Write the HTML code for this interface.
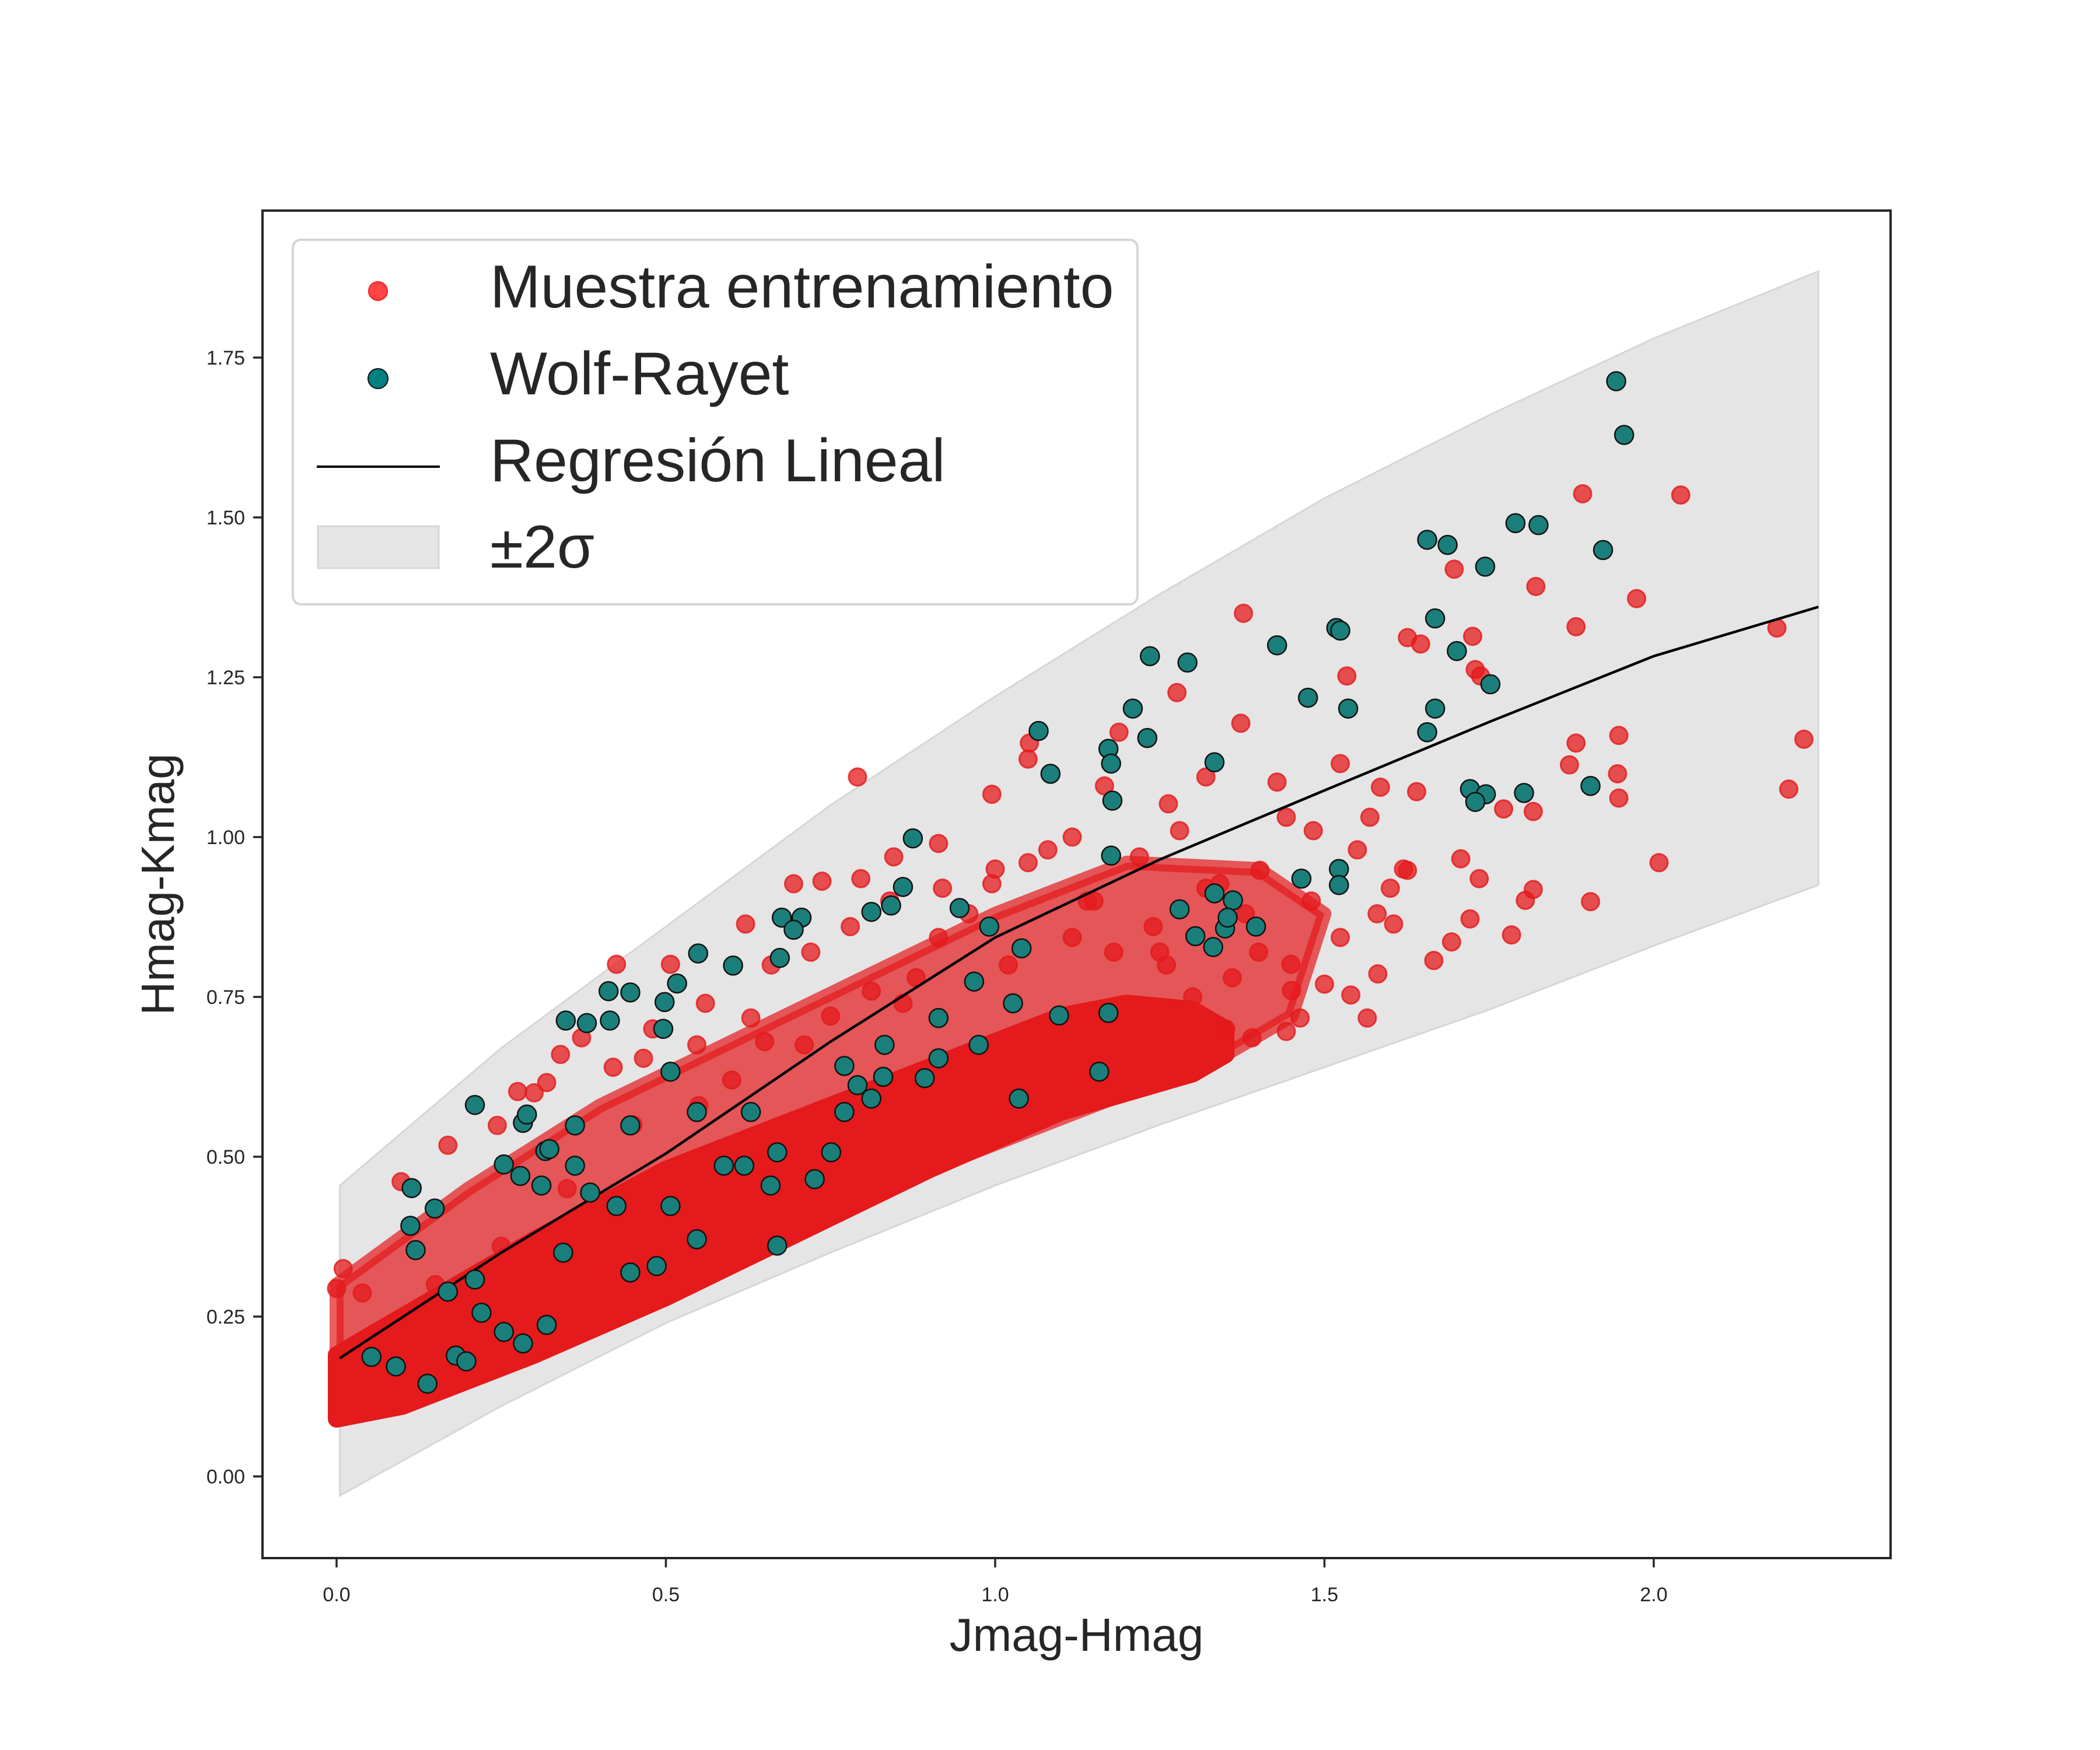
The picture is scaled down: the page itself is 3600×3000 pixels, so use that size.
<!DOCTYPE html>
<html><head><meta charset="utf-8"><style>
html,body{margin:0;padding:0;background:#fff;}
svg{display:block;font-family:"Liberation Sans",Arial,sans-serif;}
</style></head><body>
<svg id="chart" width="3600" height="3000" viewBox="0 0 3600 3000" xmlns="http://www.w3.org/2000/svg">
<rect width="3600" height="3000" fill="#fff"/>
<defs><clipPath id="plotclip"><rect x="450" y="361" width="2791" height="2310"/></clipPath></defs>
<g id="plot" clip-path="url(#plotclip)"></g>
<g id="axes"></g>
<g id="legend">
  <rect x="502" y="411" width="1448" height="625" rx="14" fill="#fff" fill-opacity="0.8" stroke="#d5d5d5" stroke-width="4"/>
  <circle cx="648" cy="499" r="16" fill="#ff4444" stroke="#ee2020" stroke-width="2"/>
  <text x="840" y="527" font-size="104" fill="#262626">Muestra entrenamiento</text>
  <circle cx="648" cy="649" r="17" fill="#008080" stroke="#111" stroke-width="2"/>
  <text x="840" y="676" font-size="104" fill="#262626">Wolf-Rayet</text>
  <line x1="543" y1="800" x2="754" y2="800" stroke="#000" stroke-width="4"/>
  <text x="840" y="825" font-size="104" fill="#262626">Regresión Lineal</text>
  <rect x="545" y="902" width="207" height="72" fill="#e5e5e5" stroke="#d6d6d6" stroke-width="3"/>
  <text x="840" y="973" font-size="104" fill="#262626">±2σ</text>
</g>
</svg>
<script>
// ---- data ----
const regX = [0.005, 0.25, 0.5, 0.75, 1.0, 1.25, 1.5, 1.75, 2.0, 2.25];
const regY = [0.185, 0.35, 0.505, 0.68, 0.843, 0.965, 1.073, 1.18, 1.283, 1.36];
const bandUpper = [0.455, 0.67, 0.86, 1.05, 1.22, 1.38, 1.53, 1.66, 1.78, 1.885];
const bandLower = [-0.03, 0.11, 0.24, 0.35, 0.455, 0.55, 0.64, 0.73, 0.83, 0.925];
const coreLowerX = [0.0, 0.1, 0.3, 0.5, 0.7, 0.9, 1.1, 1.2, 1.3, 1.35];
const coreLowerY = [0.09, 0.11, 0.19, 0.28, 0.38, 0.48, 0.57, 0.6, 0.63, 0.66];
const coreUpperX = [1.35, 1.3, 1.2, 1.1, 0.9, 0.7, 0.5, 0.3, 0.1, 0.0];
const coreUpperY = [0.7, 0.73, 0.74, 0.72, 0.64, 0.56, 0.48, 0.37, 0.25, 0.19];
const cloudX = [0.0, 0.2, 0.4, 0.6, 0.8, 1.0, 1.2, 1.4, 1.5, 1.45, 1.35, 1.2, 0.9, 0.5, 0.1, 0.0];
const cloudY = [0.3, 0.45, 0.58, 0.68, 0.78, 0.88, 0.96, 0.95, 0.88, 0.72, 0.66, 0.6, 0.48, 0.28, 0.11, 0.09];
const redX = [2.041,1.892,1.974,1.821,1.882,1.697,2.187,2.228,2.205,2.008,1.904,1.945,1.947,1.947,1.882,1.872,1.817,1.772,1.817,1.805,1.784,1.721,1.666,1.693,1.735,1.707,1.64,1.626,1.605,1.54,1.581,1.585,1.524,1.534,1.646,1.626,1.725,1.729,1.737,1.377,1.373,1.428,1.402,1.463,1.449,1.39,1.276,1.263,1.219,1.117,1.052,0.995,0.914,0.846,0.796,0.737,0.694,0.621,0.507,0.425,0.372,0.319,0.275,0.244,0.169,0.098,0.01,0.0,0.039,0.791,1.05,1.188,1.166,1.32,1.442,1.483,1.569,1.117,0.914,0.812,0.629,0.547,0.466,0.71,0.995,1.28,1.341,1.524,1.565,1.442,1.36,1.48,1.55,1.6,1.25,1.15,1.05,0.96,0.88,0.6,0.65,0.45,0.35,0.25,0.15,0.55,0.75,1.35,1.45,1.58,1.62,1.5,1.4,1.3,0.3,0.34,0.42,0.48,0.56,0.66,0.72,0.78,0.84,0.92,1.0,1.08,1.14,1.24,1.32,1.38,1.26,1.18,1.02,0.86];
const redY = [1.535,1.537,1.373,1.392,1.329,1.419,1.327,1.153,1.075,0.96,0.899,1.099,1.061,1.159,1.147,1.113,1.04,1.044,0.918,0.901,0.847,0.872,0.807,0.836,0.935,0.966,1.071,0.948,0.864,0.753,0.786,1.078,1.115,1.252,1.302,1.312,1.314,1.262,1.252,1.35,1.178,1.086,0.948,0.717,0.801,0.686,1.226,1.052,0.969,1.0,1.147,1.067,0.99,0.969,0.935,0.931,0.927,0.864,0.801,0.801,0.686,0.616,0.602,0.549,0.518,0.461,0.325,0.294,0.287,1.094,1.122,1.164,1.08,1.094,1.031,1.01,1.031,0.843,0.843,0.759,0.717,0.675,0.654,0.675,0.927,1.01,0.927,0.843,0.717,0.696,0.78,0.9,0.98,0.92,0.82,0.9,0.96,0.88,0.78,0.62,0.68,0.55,0.45,0.36,0.3,0.58,0.72,0.7,0.76,0.88,0.95,0.77,0.82,0.75,0.6,0.66,0.64,0.7,0.74,0.8,0.82,0.86,0.9,0.92,0.95,0.98,0.9,0.86,0.92,0.88,0.8,0.82,0.8,0.74];
const wrX = [1.943,1.955,1.656,1.687,1.744,1.79,1.825,1.923,1.518,1.524,1.428,1.235,1.292,1.668,1.701,1.668,1.656,1.752,1.475,1.536,1.209,1.066,1.084,1.172,1.176,1.231,1.333,1.178,1.721,1.745,1.729,1.803,1.904,0.875,1.176,1.522,1.522,1.465,1.333,1.361,1.28,1.349,1.396,1.353,1.331,1.304,0.991,0.86,0.842,0.812,0.946,1.04,0.968,1.027,0.676,0.706,0.694,0.673,0.549,0.602,0.517,0.498,0.446,0.38,0.415,0.496,0.413,0.348,0.21,0.114,0.112,0.149,0.283,0.289,0.317,0.362,0.323,0.254,0.279,0.362,0.311,0.053,0.138,0.181,0.197,0.169,0.21,0.22,0.283,0.254,0.319,0.771,0.83,0.791,0.812,0.893,0.914,0.975,1.158,1.097,1.172,0.507,0.547,0.629,0.588,0.507,0.425,0.344,0.726,0.669,0.751,0.446,0.385,0.446,0.486,0.547,0.619,0.914,1.036,0.669,0.659,0.771,0.832,0.12,0.09];
const wrY = [1.713,1.629,1.465,1.457,1.423,1.491,1.488,1.449,1.327,1.323,1.3,1.283,1.273,1.342,1.291,1.201,1.164,1.239,1.218,1.201,1.201,1.166,1.099,1.138,1.115,1.155,1.117,1.057,1.075,1.067,1.055,1.069,1.08,0.998,0.971,0.95,0.925,0.935,0.912,0.901,0.887,0.857,0.86,0.874,0.828,0.845,0.86,0.922,0.893,0.883,0.889,0.826,0.774,0.74,0.874,0.874,0.855,0.811,0.818,0.799,0.771,0.742,0.757,0.709,0.713,0.7,0.759,0.713,0.581,0.451,0.392,0.419,0.553,0.566,0.509,0.549,0.512,0.488,0.47,0.486,0.455,0.187,0.145,0.189,0.18,0.289,0.308,0.256,0.208,0.226,0.237,0.642,0.625,0.612,0.591,0.623,0.654,0.675,0.633,0.721,0.725,0.633,0.57,0.57,0.486,0.423,0.423,0.35,0.465,0.507,0.507,0.549,0.444,0.319,0.329,0.371,0.486,0.717,0.591,0.361,0.455,0.57,0.675,0.354,0.172];
const xTicks = [0, 0.5, 1.0, 1.5, 2.0];
const xTickLabels = ["0.0","0.5","1.0","1.5","2.0"];
const yTicks = [0, 0.25, 0.5, 0.75, 1.0, 1.25, 1.5, 1.75];
const yTickLabels = ["0.00","0.25","0.50","0.75","1.00","1.25","1.50","1.75"];

// ---- scales ----
const NS = "http://www.w3.org/2000/svg";
const X0 = 577, XU = 1129, Y0 = 2531, YU = 1096;
const L = 450, R = 3241, T = 361, B = 2671;
function sx(v){ return X0 + v * XU; }
function sy(v){ return Y0 - v * YU; }
function mk(tag, attrs, parent){
  const el = document.createElementNS(NS, tag);
  for (const k in attrs) el.setAttribute(k, attrs[k]);
  parent.appendChild(el);
  return el;
}
function polyPts(xs, ys){ return xs.map((x,i)=>sx(x).toFixed(1)+","+sy(ys[i]).toFixed(1)).join(" "); }
const plot = document.getElementById("plot");
const axes = document.getElementById("axes");

const bandXs = regX.concat(regX.slice().reverse());
const bandYs = bandUpper.concat(bandLower.slice().reverse());
const band = mk("polygon", {points: polyPts(bandXs, bandYs), fill:"#e5e5e5", stroke:"#d6d6d6", "stroke-width":3}, plot);



const cloud = mk("polygon", {points: polyPts(cloudX, cloudY), fill:"#e41a1c", "fill-opacity":0.7, stroke:"#e41a1c", "stroke-opacity":0.7, "stroke-width":24, "stroke-linejoin":"round"}, plot);


const core = mk("polygon", {points: polyPts(coreLowerX.concat(coreUpperX), coreLowerY.concat(coreUpperY)), fill:"#e41a1c", stroke:"#e41a1c", "stroke-width":30, "stroke-linejoin":"round"}, plot);



redX.forEach((x,i)=>{
  const c = mk("circle", {cx:sx(x), cy:sy(redY[i]), r:15, fill:"#e41a1c", "fill-opacity":0.75, stroke:"#e41a1c", "stroke-opacity":0.8, "stroke-width":3}, plot);
  
  
});

const line = mk("polyline", {points: polyPts(regX, regY), fill:"none", stroke:"#000", "stroke-width":4.5, "stroke-linejoin":"round"}, plot);



wrX.forEach((x,i)=>{
  const c = mk("circle", {cx:sx(x), cy:sy(wrY[i]), r:16, fill:"#1a7f7a", stroke:"#111", "stroke-width":2.5}, plot);
  
  
});

const frame = mk("rect", {x:L, y:T, width:R-L, height:B-T, fill:"none", stroke:"#262626", "stroke-width":4}, axes);



xTicks.forEach((v,i)=>{
  const t = mk("line", {x1:sx(v), y1:B, x2:sx(v), y2:B+16, stroke:"#262626", "stroke-width":3.5}, axes);
  
  
  const lb = mk("text", {x:sx(v), y:B+74, "font-size":34, fill:"#262626", "text-anchor":"middle"}, axes);
  lb.textContent = xTickLabels[i];
  
  
});
yTicks.forEach((v,i)=>{
  const t = mk("line", {x1:L-16, y1:sy(v), x2:L, y2:sy(v), stroke:"#262626", "stroke-width":3.5}, axes);
  
  
  const lb = mk("text", {x:L-30, y:sy(v)+12, "font-size":34, fill:"#262626", "text-anchor":"end"}, axes);
  lb.textContent = yTickLabels[i];
  
  
});
const xt = mk("text", {x:(L+R)/2, y:2830, "font-size":80, fill:"#262626", "text-anchor":"middle"}, axes);
xt.textContent = "Jmag-Hmag";


const yt = mk("text", {x:0, y:0, "font-size":80, fill:"#262626", "text-anchor":"middle", transform:"translate(298,1516) rotate(-90)"}, axes);
yt.textContent = "Hmag-Kmag";


</script>
</body></html>
